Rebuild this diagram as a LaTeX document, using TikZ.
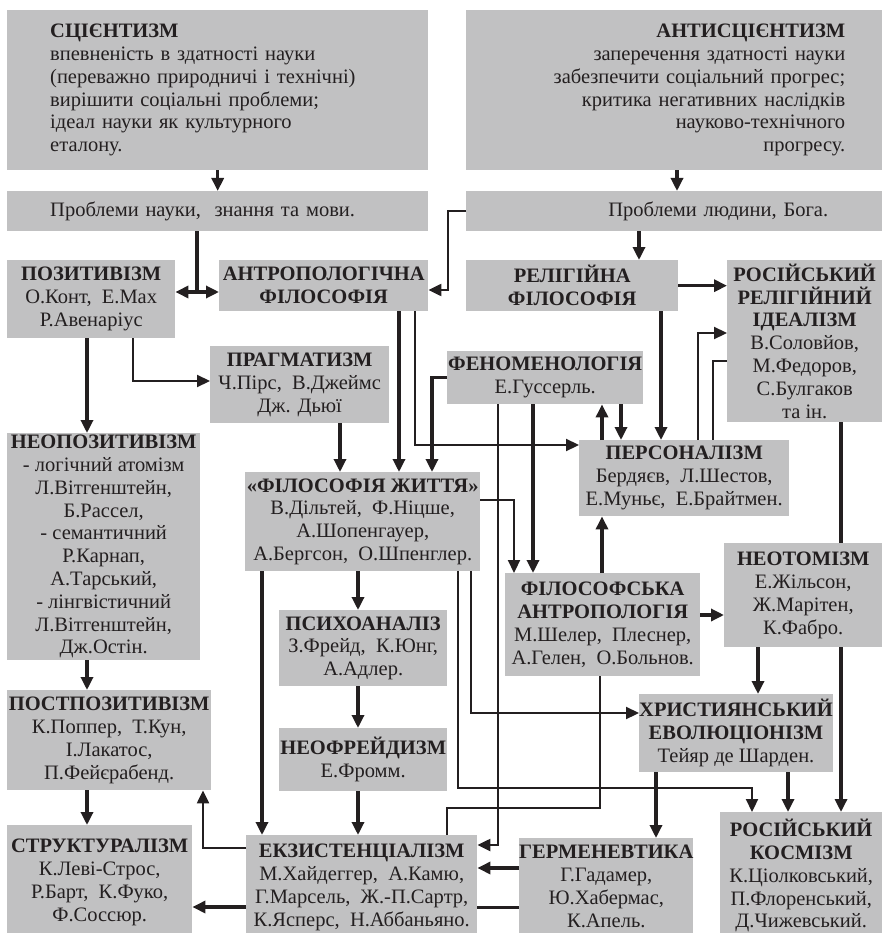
\documentclass[tikz,border=0pt]{standalone}
\usepackage{fontspec}
\setmainfont{Liberation Serif}
\usetikzlibrary{arrows.meta}
\definecolor{boxgray}{RGB}{193,193,194}
\definecolor{ink}{RGB}{35,31,32}

\tikzset{
  box/.style={fill=boxgray, anchor=north west, inner sep=0pt, align=center, text=ink,
    font=\fontsize{20.5}{22.8}\selectfont},
  arr/.style={draw=ink, line width=3.2pt, -{Triangle[length=13pt,width=12pt]}},
  thinarr/.style={arr, line width=2.2pt},
  ln/.style={draw=ink, line width=2.2pt}
}

\begin{document}
\begin{tikzpicture}[x=1pt, y=-1pt]
		\useasboundingbox (0,0) rectangle (882,933);
		
		\node[box, minimum width=421pt, minimum height=160pt, inner xsep=43pt, text width=335pt, align=left] (scient) at (7,10) {\textbf{СЦІЄНТИЗМ}\\ впевненість в здатності науки\\ (переважно природничі і технічні)\\ вирішити соціальні проблеми;\\ ідеал науки як культурного\\ еталону.};
		\node[box, minimum width=416pt, minimum height=160pt, inner xsep=37pt, text width=342pt, align=right] (antisci) at (466,10) {\textbf{АНТИСЦІЄНТИЗМ}\\ заперечення здатності науки\\ забезпечити соціальний прогрес;\\ критика негативних наслідків\\ науково-технічного\\ прогресу.};
		\node[box, minimum width=421pt, minimum height=40pt, inner xsep=43pt, text width=335pt, align=left] (probsci) at (7,191) {Проблеми науки,~ знання та мови.};
		\node[box, minimum width=416pt, minimum height=40pt, inner xsep=54pt, text width=308pt, align=right] (probman) at (466,191) {Проблеми людини, Бога.};
		
		\node[box, minimum width=168pt, minimum height=78pt] (pozit) at (7,260) {\textbf{ПОЗИТИВІЗМ}\\ О.Конт,~ Е.Мах\\ Р.Авенаріус};
		\node[box, minimum width=209pt, minimum height=51pt] (antrop) at (219,260) {\textbf{АНТРОПОЛОГІЧНА}\\ \textbf{ФІЛОСОФІЯ}};
		\node[box, minimum width=212pt, minimum height=51pt] (relig) at (466,260) {\textbf{РЕЛІГІЙНА}\\ \textbf{ФІЛОСОФІЯ}};
		\node[box, minimum width=155pt, minimum height=162pt] (rosrel) at (727,260) {\textbf{РОСІЙСЬКИЙ}\\ \textbf{РЕЛІГІЙНИЙ}\\ \textbf{ІДЕАЛІЗМ}\\ В.Соловйов,\\ М.Федоров,\\ С.Булгаков\\ та ін.};
		\node[box, minimum width=179pt, minimum height=77pt] (pragm) at (210,346) {\textbf{ПРАГМАТИЗМ}\\ Ч.Пірс,~ В.Джеймс\\ Дж. Дьюї};
		\node[box, minimum width=193pt, minimum height=227pt] (neopoz) at (7,433) {\textbf{НЕОПОЗИТИВІЗМ}\\ - логічний атомізм\\ Л.Вітгенштейн,\\ Б.Рассел,\\ - семантичний\\ Р.Карнап,\\ А.Тарський,\\ - лінгвістичний\\ Л.Вітгенштейн,\\ Дж.Остін.};
		\node[box, minimum width=196pt, minimum height=53pt] (fenom) at (447,351) {\textbf{ФЕНОМЕНОЛОГІЯ}\\ Е.Гуссерль.};
		\node[box, minimum width=235pt, minimum height=99pt] (zhyttya) at (245,472) {\textbf{«ФІЛОСОФІЯ ЖИТТЯ»}\\ В.Дільтей,~ Ф.Ніцше,\\ А.Шопенгауер,\\ А.Бергсон,~ О.Шпенглер.};
		\node[box, minimum width=210pt, minimum height=76pt] (person) at (579,440) {\textbf{ПЕРСОНАЛІЗМ}\\ Бердяєв,~ Л.Шестов,\\ Е.Муньє,~ Е.Брайтмен.};
		\node[box, minimum width=195pt, minimum height=103pt] (filant) at (505,573) {\textbf{ФІЛОСОФСЬКА}\\ \textbf{АНТРОПОЛОГІЯ}\\ М.Шелер,~ Плеснер,\\ А.Гелен,~ О.Больнов.};
		\node[box, minimum width=158pt, minimum height=104pt] (neotom) at (724,543) {\textbf{НЕОТОМІЗМ}\\ Е.Жільсон,\\ Ж.Марітен,\\ К.Фабро.};
		\node[box, minimum width=168pt, minimum height=76pt] (psych) at (279,610) {\textbf{ПСИХОАНАЛІЗ}\\ З.Фрейд,~ К.Юнг,\\ А.Адлер.};
		\node[box, minimum width=168pt, minimum height=63pt] (neofr) at (279,728) {\textbf{НЕОФРЕЙДИЗМ}\\ Е.Фромм.};
		\node[box, minimum width=190pt, minimum height=78pt] (hryst) at (639,694) {\textbf{ХРИСТИЯНСЬКИЙ}\\ \textbf{ЕВОЛЮЦІОНІЗМ}\\ Тейяр де Шарден.};
		\node[box, minimum width=204pt, minimum height=100pt] (postpoz) at (7,690) {\textbf{ПОСТПОЗИТИВІЗМ}\\ К.Поппер,~ Т.Кун,\\ І.Лакатос,\\ П.Фейєрабенд.};
		\node[box, minimum width=185pt, minimum height=114pt] (strukt) at (7,825) {\textbf{СТРУКТУРАЛІЗМ}\\ К.Леві-Строс,\\ Р.Барт,~ К.Фуко,\\ Ф.Соссюр.};
		\node[box, minimum width=231pt, minimum height=104pt] (ekz) at (246,835) {\textbf{ЕКЗИСТЕНЦІАЛІЗМ}\\ М.Хайдеггер,~ А.Камю,\\ Г.Марсель,~ Ж.-П.Сартр,\\ К.Ясперс,~ Н.Аббаньяно.};
		\node[box, minimum width=174pt, minimum height=96pt] (germ) at (519,838) {\textbf{ГЕРМЕНЕВТИКА}\\ Г.Гадамер,\\ Ю.Хабермас,\\ К.Апель.};
		\node[box, minimum width=162pt, minimum height=127pt] (kosm) at (720,812) {\textbf{РОСІЙСЬКИЙ}\\ \textbf{КОСМІЗМ}\\ К.Ціолковський,\\ П.Флоренський,\\ Д.Чижевський.};
		
		% top rows
		\coordinate (fork) at (197,292);
		\draw[arr] (scient.south) -- (probsci.north);
		\draw[arr] (antisci.south -| 677,0) -- (probman.north -| 677,0);
		\draw[arr] (probsci.south -| fork) -- (fork) -- (fork -| antrop.west);
		\draw[arr] (fork) -- (fork -| pozit.east);
		\draw[thinarr] (probman.west) -| (448,290) -- (antrop.east |- 0,290);
		\draw[arr] (probman.south -| 639,0) -- (relig.north -| 639,0);
		\draw[arr] (relig.east) -- (rosrel.west |- relig.east);
		
		% left column
		\draw[arr] (pozit.south -| 87,0) -- (neopoz.north -| 87,0);
		\draw[thinarr] (pozit.south -| 133,0) |- (pragm.west |- 0,381);
		\draw[arr] (neopoz.south -| 87,0) -- (postpoz.north -| 87,0);
		\draw[arr] (postpoz.south -| 87,0) -- (strukt.north -| 87,0);
		
		% middle
		\draw[arr] (pragm.south -| 340,0) -- (zhyttya.north -| 340,0);
		\draw[arr] (antrop.south -| 399,0) -- (zhyttya.north -| 399,0);
		\draw[thinarr] (antrop.south -| 415,0) |- (person.west |- 0,445);
		\draw[arr] (fenom.west) -| (zhyttya.north -| 432,0);
		\draw[thinarr] (fenom.south -| 498,0) |- (ekz.east |- 0,845);
		\draw[arr] (fenom.south -| 533,0) -- (filant.north -| 533,0);
		\draw[arr] (person.north -| 602,0) -- (fenom.south -| 602,0);
		\draw[arr] (fenom.south -| 621,0) -- (person.north -| 621,0);
		\draw[arr] (relig.south -| 661,0) -- (person.north -| 661,0);
		\draw[thinarr] (person.north -| 698,0) |- (rosrel.west |- 0,333);
		\draw[ln] (person.north -| 713,0) |- (rosrel.west |- 0,361);
		\draw[arr] (filant.north -| 602,0) -- (person.south -| 602,0);
		\draw[thinarr] (zhyttya.east |- 0,500) -| (filant.north -| 514,0);
		\draw[arr] (filant.east |- 0,615) -- (neotom.west |- 0,615);
		
		% right column
		\draw[ln, line width=3.2pt] (rosrel.south -| 841,0) -- (neotom.north -| 841,0);
		\draw[arr] (neotom.south -| 841,0) -- (kosm.north -| 841,0);
		\draw[arr] (neotom.south -| 758,0) -- (hryst.north -| 758,0);
		\draw[thinarr] (zhyttya.south -| 471,0) |- (hryst.west |- 0,713);
		\draw[arr] (hryst.south -| 656,0) -- (germ.north -| 656,0);
		\draw[arr] (hryst.south -| 788,0) -- (kosm.north -| 788,0);
		\draw[thinarr] (zhyttya.south -| 458,0) -- (458,788) -| (kosm.north -| 752,0);
		\draw[ln] (filant.south -| 600,0) |- (447,808) -- (ekz.north -| 447,0);
		
		% lower part
		\draw[arr] (zhyttya.south -| 358,0) -- (psych.north -| 358,0);
		\draw[arr] (psych.south -| 358,0) -- (neofr.north -| 358,0);
		\draw[arr] (neofr.south -| 358,0) -- (ekz.north -| 358,0);
		\draw[arr] (zhyttya.south -| 262,0) -- (ekz.north -| 262,0);
		\draw[thinarr] (ekz.west |- 0,848) -| (postpoz.south -| 203,0);
		\draw[arr] (ekz.west |- 0,907) -- (strukt.east |- 0,907);
		\draw[arr] (germ.west |- 0,868) -- (ekz.east |- 0,868);
		\draw[ln, line width=3pt] (ekz.east |- 0,907) -- (germ.west |- 0,907);
	\end{tikzpicture}
\end{document}
